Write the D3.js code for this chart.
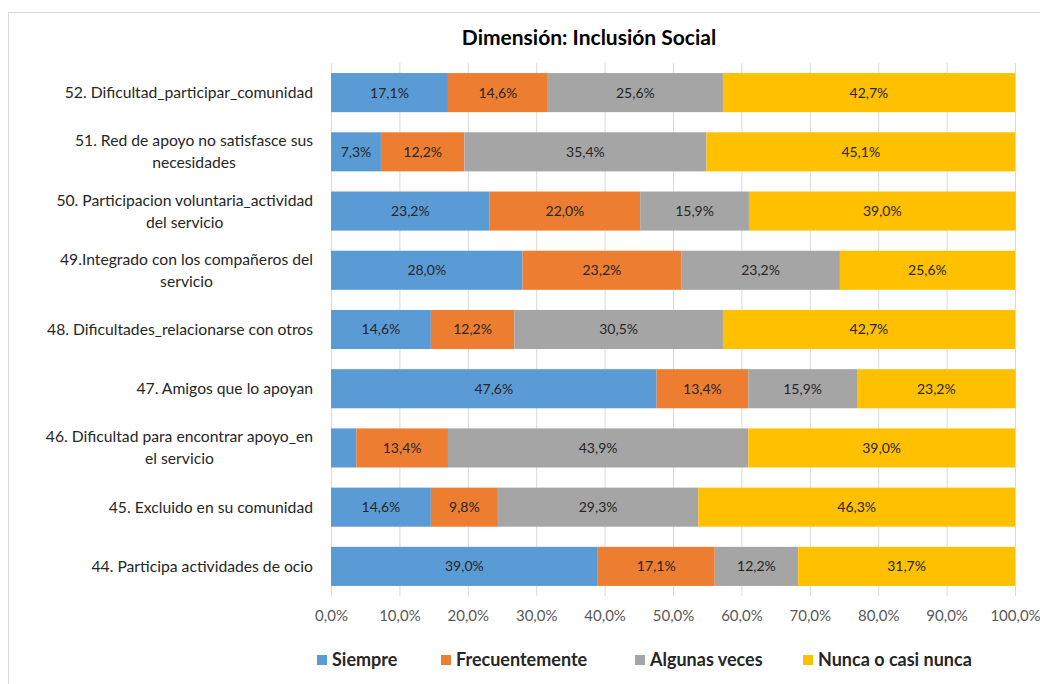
<!DOCTYPE html>
<html>
<head>
<meta charset="utf-8">
<script src="https://cdn.jsdelivr.net/npm/d3@7"></script>
<style>
  html, body { margin: 0; padding: 0; background: #fff; }
  svg { display: block; font-family: Lato, "Open Sans", sans-serif; }
</style>
</head>
<body>
<svg id="chart" width="1040" height="684"></svg>
<script>
// Items, top to bottom; "\n" marks the line break in the axis label
const categories = [
  "52. Dificultad_participar_comunidad",
  "51. Red de apoyo no satisfasce sus\nnecesidades",
  "50. Participacion voluntaria_actividad\ndel servicio",
  "49.Integrado con los compañeros del\nservicio",
  "48. Dificultades_relacionarse con otros",
  "47. Amigos que lo apoyan",
  "46. Dificultad para encontrar apoyo_en\nel servicio",
  "45. Excluido en su comunidad",
  "44. Participa actividades de ocio"
];

const seriesNames = ["Siempre", "Frecuentemente", "Algunas veces", "Nunca o casi nunca"];

// Percentages per series, same order as categories
const siempre        = [17.1,  7.3, 23.2, 28.0, 14.6, 47.6,  3.7, 14.6, 39.0];
const frecuentemente = [14.6, 12.2, 22.0, 23.2, 12.2, 13.4, 13.4,  9.8, 17.1];
const algunasVeces   = [25.6, 35.4, 15.9, 23.2, 30.5, 15.9, 43.9, 29.3, 12.2];
const nuncaCasiNunca = [42.7, 45.1, 39.0, 25.6, 42.7, 23.2, 39.0, 46.3, 31.7];

const xTicks = [0, 10, 20, 30, 40, 50, 60, 70, 80, 90, 100];

const colors = ["#5B9BD5", "#ED7D31", "#A5A5A5", "#FFC000"];

const rows = categories.map((c, i) => ({
  cat: c,
  Siempre: siempre[i],
  Frecuentemente: frecuentemente[i],
  "Algunas veces": algunasVeces[i],
  "Nunca o casi nunca": nuncaCasiNunca[i]
}));

const svg = d3.select("#chart");
const fmt = v => d3.format(".1f")(v).replace(".", ",") + "%";

// Chart frame
svg.append("rect")
  .attr("x", 8.5).attr("y", 12.5)
  .attr("width", 1040).attr("height", 700)
  .attr("fill", "#fff").attr("stroke", "#D9D9D9").attr("stroke-width", 1);

const plot = { left: 331, right: 1015, top: 63, bottom: 596 };

const x = d3.scaleLinear().domain([0, 100]).range([plot.left, plot.right]);
const y = d3.scaleBand().domain(categories).range([plot.top, plot.bottom])
  .paddingInner(0.34).paddingOuter(0.17);

// Title
svg.append("text")
  .attr("x", 589).attr("y", 45)
  .attr("text-anchor", "middle")
  .attr("font-size", 21).attr("font-weight", 700).attr("fill", "#000")
  .text("Dimensión: Inclusión Social");

// Vertical gridlines and percentage ticks
const xAxis = d3.axisBottom(x).tickValues(xTicks).tickFormat(fmt)
  .tickSize(-(plot.bottom - plot.top)).tickPadding(14);
const gx = svg.append("g")
  .attr("transform", `translate(0,${plot.bottom})`)
  .call(xAxis);
gx.select(".domain").remove();
gx.selectAll(".tick line").attr("stroke", "#D9D9D9").attr("stroke-width", 1);
gx.selectAll(".tick text")
  .attr("font-size", 15).attr("fill", "#595959")
  .attr("font-family", "Lato, 'Open Sans', sans-serif");

// Stacked bars
const stack = d3.stack().keys(seriesNames);
const stacked = stack(rows);

const layers = svg.append("g").selectAll("g")
  .data(stacked).join("g")
  .attr("fill", (d, i) => colors[i]);

layers.selectAll("rect")
  .data(d => d.map(p => ({ p, cat: p.data.cat })))
  .join("rect")
  .attr("x", d => x(d.p[0]))
  .attr("y", d => y(d.cat))
  .attr("width", d => x(d.p[1]) - x(d.p[0]))
  .attr("height", y.bandwidth());

// Value labels, omitted where the segment is too narrow
const labels = svg.append("g");
stacked.forEach(layer => {
  layer.forEach(p => {
    const v = p[1] - p[0];
    if (v < 5) return;
    labels.append("text")
      .attr("x", (x(p[0]) + x(p[1])) / 2)
      .attr("y", y(p.data.cat) + y.bandwidth() / 2)
      .attr("dy", "0.35em")
      .attr("text-anchor", "middle")
      .attr("font-size", 14).attr("fill", "#262626")
      .text(fmt(v));
  });
});

// Category labels: block right-aligned, each line centred within it
const catRight = 313;
const lineH = 22;
const catG = svg.append("g");
categories.forEach(c => {
  const lines = c.split("\n");
  const cy = y(c) + y.bandwidth() / 2;
  const t = catG.append("text")
    .attr("font-size", 15.7).attr("fill", "#262626");
  const spans = lines.map((ln, k) => t.append("tspan")
    .attr("y", cy + (k - (lines.length - 1) / 2) * lineH)
    .attr("dy", "0.35em")
    .text(ln));
  const widths = spans.map(s => s.node().getComputedTextLength());
  const w = d3.max(widths);
  const cx = catRight - w / 2;
  spans.forEach(s => s.attr("x", cx).attr("text-anchor", "middle"));
});

// Legend
const legendX = [317, 441, 635, 803];
const legend = svg.append("g");
seriesNames.forEach((name, i) => {
  legend.append("rect")
    .attr("x", legendX[i]).attr("y", 655)
    .attr("width", 10).attr("height", 10)
    .attr("fill", colors[i]);
  legend.append("text")
    .attr("x", legendX[i] + 15).attr("y", 660)
    .attr("dy", "0.35em")
    .attr("font-size", 18).attr("font-weight", 700).attr("fill", "#262626")
    .text(name);
});
</script>
</body>
</html>
